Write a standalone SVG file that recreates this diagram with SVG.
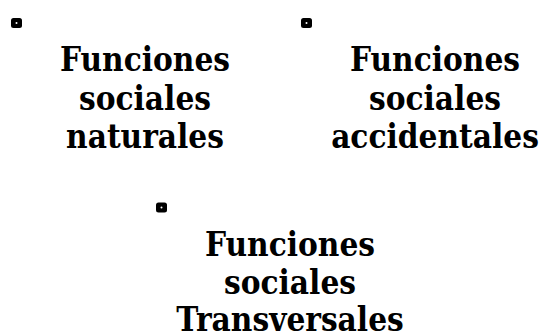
<svg xmlns="http://www.w3.org/2000/svg" width="546" height="336" viewBox="0 0 546 336">
<style>
text{font-family:"DejaVu Serif Condensed","DejaVu Serif","Liberation Serif",serif;font-weight:bold;font-size:33px;fill:#000;text-anchor:middle}
.b{fill:#000}
.d{fill:#fff}
</style>
<defs>
<g id="bullet"><rect class="b" x="-5.5" y="-5" width="11" height="10" rx="2.5"/><circle class="d" cx="0" cy="0" r="1"/></g>
</defs>
<rect width="546" height="336" fill="#fff"/>
<g id="connectors"></g>
<g id="n1">
<use href="#bullet" x="16.5" y="23"/>
<text x="145" y="71">Funciones</text>
<text x="145" y="110">sociales</text>
<text x="145" y="148">naturales</text>
</g>
<g id="n2">
<use href="#bullet" x="306.5" y="23"/>
<text x="435" y="71">Funciones</text>
<text x="435" y="110">sociales</text>
<text x="435" y="148">accidentales</text>
</g>
<g id="n3">
<use href="#bullet" x="161.5" y="207.5"/>
<text x="290" y="256">Funciones</text>
<text x="290" y="294">sociales</text>
<text x="290" y="331">Transversales</text>
</g>
</svg>
